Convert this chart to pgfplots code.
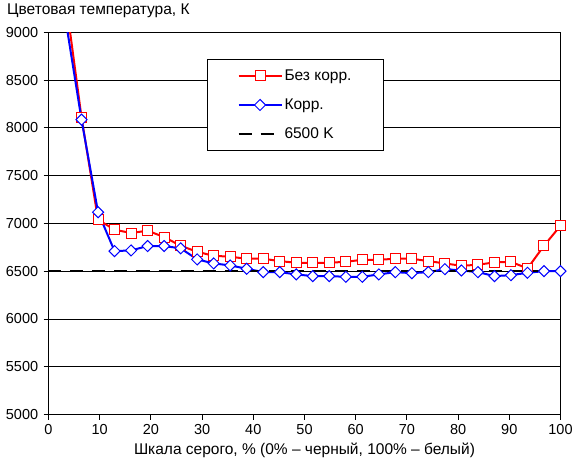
\documentclass[border=0pt]{standalone}
\usepackage{pgfplots}
\pgfplotsset{compat=1.18}
\usepackage{fontspec}
\setmainfont{Liberation Sans}
\begin{document}
\fontsize{15.5bp}{18bp}\selectfont
\begin{tikzpicture}
\path[use as bounding box] (-48.5bp,-52.5bp) rectangle (524.5bp,414.5bp);
\begin{axis}[
  scale only axis, width=512bp, height=382bp,
  xmin=0, xmax=100, ymin=5000, ymax=9000,
  xtick={0,10,...,100}, ytick={5000,5500,...,9000},
  ymajorgrids, grid style={black, line width=1bp},
  axis line style={black, line width=1bp},
  tick style={black, line width=1bp},
  tick align=outside, tick pos=left, major tick length=5bp,
  /pgf/number format/assume math mode=true,
  /pgf/number format/1000 sep={},
  ticklabel style={font=\fontsize{14.5bp}{17bp}\selectfont},
  label style={font=\fontsize{15.5bp}{18bp}\selectfont},
  xlabel={Шкала серого, \% (0\% – черный, 100\% – белый)},
  xlabel style={yshift=3bp},
  legend style={at={(rel axis cs:0.3096,0.9306)}, anchor=north west,
    draw=black, line width=1bp, fill=white,
    inner xsep=30bp, inner ysep=8bp, row sep=12bp,
    font=\fontsize{15.5bp}{18bp}\selectfont,
    cells={anchor=west}},
  legend image code/.code={\draw[mark repeat=2,mark phase=2,#1] plot coordinates {(0bp,0bp) (21.5bp,0bp) (43bp,0bp)};},
]
\addplot[red, line width=2bp, mark=square*, mark size=5bp,
  mark options={fill=white, draw=red, line width=1bp, solid}] coordinates {
(0,10500) (3.23,9400) (6.45,8111) (9.68,7040) (12.90,6935) (16.13,6900)
(19.35,6925) (22.58,6858) (25.81,6767) (29.03,6704) (32.26,6662) (35.48,6652)
(38.71,6631) (41.94,6631) (45.16,6606) (48.39,6589) (51.61,6589) (54.84,6589)
(58.06,6599) (61.29,6620) (64.52,6620) (67.74,6631) (70.97,6631) (74.19,6606)
(77.42,6582) (80.65,6557) (83.87,6568) (87.10,6593) (90.32,6599) (93.55,6529)
(96.77,6767) (100,6977)};
\addlegendentry{Без корр.}
\addplot[blue, line width=2bp, mark=square*, mark size=3.9bp,
  mark options={fill=white, draw=blue, line width=1bp, rotate=45, solid}] coordinates {
(0,10200) (3.23,9170) (6.45,8087) (9.68,7118) (12.90,6711) (16.13,6718)
(19.35,6764) (22.58,6764) (25.81,6740) (29.03,6624) (32.26,6582) (35.48,6561)
(38.71,6526) (41.94,6491) (45.16,6491) (48.39,6467) (51.61,6449) (54.84,6449)
(58.06,6442) (61.29,6442) (64.52,6467) (67.74,6491) (70.97,6480) (74.19,6491)
(77.42,6522) (80.65,6508) (83.87,6491) (87.10,6449) (90.32,6459) (93.55,6484)
(96.77,6501) (100,6501)};
\addlegendentry{Корр.}
\addplot[black, line width=2bp, dash pattern=on 13bp off 9bp, forget plot] coordinates {(0,6500) (100,6500)};
\addlegendimage{black, line width=2bp, dash pattern=on 13bp off 9bp}
\addlegendentry{6500 K}
\end{axis}
\node[anchor=base west, inner sep=0pt] at (-41.5bp,399.5bp) {Цветовая температура, К};
\end{tikzpicture}
\end{document}
